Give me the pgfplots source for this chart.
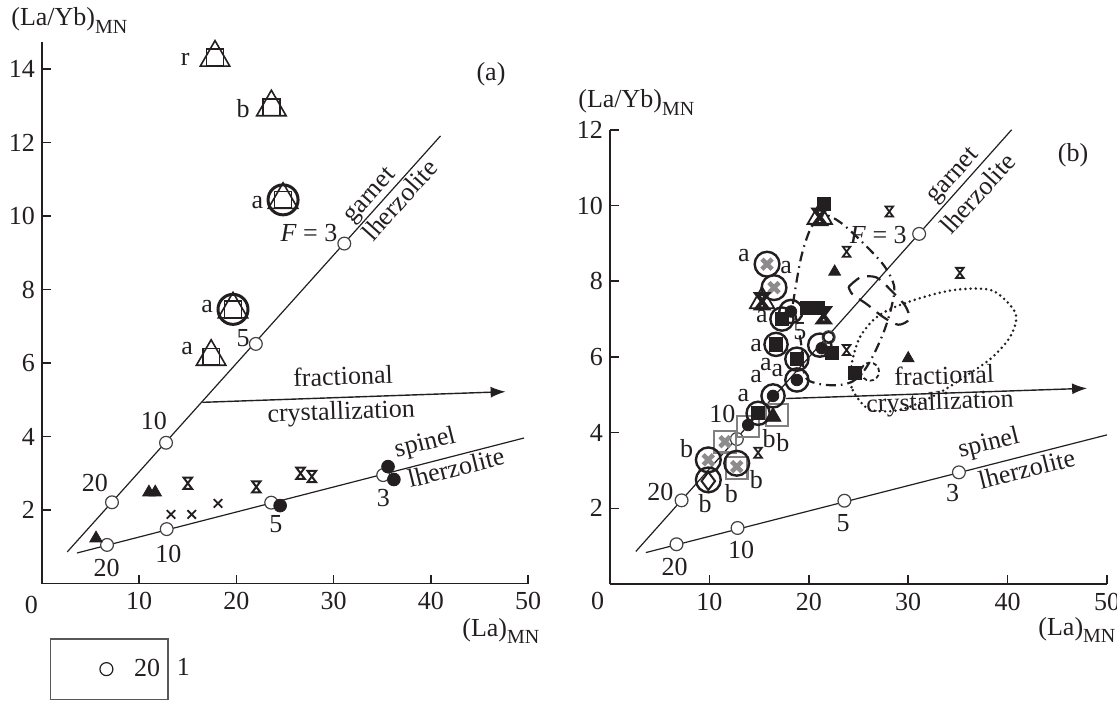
\documentclass[border=0pt]{standalone}
\usepackage{fontspec}
\setmainfont{Liberation Serif}
\usepackage{pgfplots}
\pgfplotsset{compat=1.18}
\usetikzlibrary{arrows.meta}

\definecolor{ink}{HTML}{231F20}
\definecolor{xgrey}{HTML}{8C8C8C}
\definecolor{sgrey}{HTML}{808080}

\newcommand{\fs}{\fontsize{13}{15}\selectfont}
\newcommand{\subs}[1]{\raisebox{-0.3em}{\fontsize{10}{12}\selectfont #1}}

% hourglass-shaped cross used for one group of samples
\pgfdeclareplotmark{hourglass}{%
  \pgfpathmoveto{\pgfqpoint{-0.75\pgfplotmarksize}{\pgfplotmarksize}}%
  \pgfpathlineto{\pgfqpoint{0.75\pgfplotmarksize}{\pgfplotmarksize}}%
  \pgfpathlineto{\pgfqpoint{-0.75\pgfplotmarksize}{-\pgfplotmarksize}}%
  \pgfpathlineto{\pgfqpoint{0.75\pgfplotmarksize}{-\pgfplotmarksize}}%
  \pgfpathclose
  \pgfusepathqstroke}

\pgfplotsset{
  panel/.style={
    scale only axis, anchor=south west,
    axis lines=left, axis line style={-, line width=0.8pt, draw=ink},
    xmin=0, xmax=50, ymin=0, clip=false,
    tick align=inside, major tick length=4.5pt,
    tick style={line width=0.8pt, draw=ink},
    xtick={10,20,30,40,50},
    tick label style={font=\fs, text=ink},
    xticklabel style={yshift=-1pt},
    /pgf/number format/assume math mode=true,
  },
  modelline/.style={ink, line width=0.6pt, no marks},
  modelpt/.style={only marks, mark=*, mark size=3.2pt, mark options={fill=white, draw=ink!85, line width=0.6pt}},
}

\begin{document}
\begin{tikzpicture}[font=\fs, every node/.append style={text=ink}, lab/.style={inner sep=0pt}]
\useasboundingbox (0,0) rectangle (558.5pt,351pt);

%% ---------------- panel (a) ----------------
\begin{axis}[panel, at={(21pt,59.25pt)}, width=243pt, height=270.65pt,
  ymax=14.73, ytick={2,4,...,14},
  legend style={at={(0.0165,-0.1012)}, anchor=north west, draw=ink!75,
    line width=0.7pt, inner xsep=2pt, inner ysep=8pt, font=\fs,
    column sep=7pt, cells={anchor=center}}]
\addlegendimage{legend image code/.code={\path (0pt,0pt) (30pt,0pt);
  \draw[ink, line width=0.6pt, fill=white] (25.5pt,0pt) circle[radius=3.25pt];}}
\addlegendentry{20}

% melting trends
\addplot[modelline] coordinates {(2.6,0.86) (41.0,12.18)};
\addplot[modelline] coordinates {(3.6,0.83) (49.6,3.96)};
\addplot[modelpt] coordinates {(7.2,2.21) (12.76,3.83) (22.0,6.52) (31.1,9.25)};
\addplot[modelpt] coordinates {(6.69,1.05) (12.83,1.48) (23.58,2.2) (35.1,2.95)};
% fractional crystallization vector
\addplot[ink, line width=0.7pt, -{Latex[length=7.5pt,width=5.5pt]}] coordinates {(16.5,4.93) (47.7,5.22)};

% composite symbols
\addplot[only marks, mark=triangle, mark size=8.5pt, ink, mark options={line width=0.8pt}]
  coordinates {(17.8,14.31) (23.6,12.96) (24.8,10.44) (19.65,7.46) (17.4,6.17)};
\addplot[only marks, mark=square, mark size=4.2pt, ink, mark options={line width=0.8pt}]
  coordinates {(17.8,14.31) (23.6,12.96) (24.8,10.44) (19.65,7.46) (17.4,6.17)};
\addplot[only marks, mark=o, mark size=7.5pt, ink, mark options={line width=1.5pt}]
  coordinates {(24.8,10.44) (19.65,7.46)};
% other samples
\addplot[only marks, mark=triangle*, mark size=3.6pt, ink] coordinates {(11.0,2.48) (11.65,2.48) (5.56,1.23)};
\addplot[only marks, mark=hourglass, mark size=2.8pt, ink, mark options={line width=1pt}]
  coordinates {(15.0,2.73) (22.05,2.63) (26.6,3.0) (27.76,2.91)};
\addplot[only marks, mark=x, mark size=3pt, ink, mark options={line width=0.9pt}]
  coordinates {(13.27,1.88) (15.4,1.88) (18.1,2.18)};
\addplot[only marks, mark=*, mark size=3.2pt, ink] coordinates {(35.6,3.18) (36.2,2.83) (24.5,2.12)};

% annotations
\node[lab] at (axis cs:14.74,14.26) {r};
\node[lab] at (axis cs:20.68,12.93) {b};
\node[lab] at (axis cs:22.15,10.37) {a};
\node[lab] at (axis cs:17.0,7.53) {a};
\node[lab] at (axis cs:14.93,6.40) {a};
\node[lab] at (axis cs:27.47,9.53) {\textit{F} = 3};
\node[lab] at (axis cs:20.68,6.68) {5};
\node[lab] at (axis cs:11.52,4.43) {10};
\node[lab] at (axis cs:5.45,2.73) {20};
\node[lab] at (axis cs:6.64,0.41) {20};
\node[lab] at (axis cs:13.01,0.80) {10};
\node[lab] at (axis cs:24.07,1.62) {5};
\node[lab] at (axis cs:35.13,2.32) {3};
\node[lab, rotate=48] at (axis cs:33.85,10.53) {garnet};
\node[lab, rotate=48] at (axis cs:36.79,10.44) {lherzolite};
\node[lab, rotate=14] at (axis cs:39.44,3.80) {spinel};
\node[lab, rotate=14] at (axis cs:42.59,3.16) {lherzolite};
\node[lab, rotate=2] at (axis cs:30.97,5.65) {fractional};
\node[lab, rotate=2] at (axis cs:30.78,4.63) {crystallization};
\end{axis}

%% ---------------- panel (b) ----------------
\begin{axis}[panel, at={(305pt,59pt)}, width=248.5pt, height=227.1pt,
  ymax=12, ytick={2,4,...,12}]
% outlined fields
\addplot[ink, line width=1.4pt, smooth, line cap=round, dash pattern=on 0pt off 2.6pt]
  coordinates {(24.3,5.2) (24.3,5.8) (25.1,6.5) (26.6,7.0) (28.5,7.3) (31.8,7.6) (35.0,7.78)
  (38.5,7.75) (40.8,7.15) (40.3,6.55) (38.5,6.0) (36.4,5.6) (32.8,5.0) (29.2,4.6) (26.2,4.6)
  (24.8,4.95) (24.3,5.2)};
\addplot[ink, line width=1.1pt, smooth, dash pattern=on 7pt off 4pt]
  coordinates {(24.0,7.85) (25.2,8.1) (26.8,8.1) (28.3,7.75) (29.7,7.35) (30.1,7.0) (29.0,6.85)
  (27.5,7.05) (25.8,7.4) (24.4,7.65) (24.0,7.85)};
\addplot[ink, line width=1.1pt, smooth, dash pattern=on 5pt off 2.5pt on 0.8pt off 2.5pt]
  coordinates {(18.4,7.4) (19.2,8.6) (20.2,9.4) (21.5,9.75) (23.2,9.55) (25.5,9.0) (27.6,8.4)
  (28.6,7.85) (28.3,7.3) (27.6,6.7) (26.6,6.1) (25.6,5.65) (24.4,5.35) (22.8,5.25) (20.8,5.3)
  (19.6,5.5) (19.2,6.4) (18.4,7.4)};

% melting trends
\addplot[modelline] coordinates {(2.6,0.86) (40.4,12.0)};
\addplot[modelline] coordinates {(3.6,0.83) (50.0,3.94)};
\addplot[modelpt] coordinates {(7.2,2.21) (12.76,3.83) (22.0,6.52) (31.1,9.25)};
\addplot[modelpt] coordinates {(6.69,1.05) (12.83,1.48) (23.58,2.2) (35.1,2.95)};
\addplot[ink, line width=0.7pt, -{Latex[length=7.5pt,width=5.5pt]}] coordinates {(17.7,4.9) (48.0,5.17)};

% grey open squares
\addplot[only marks, mark=square, mark size=5.4pt, sgrey, mark options={line width=1.1pt}]
  coordinates {(11.57,3.76) (12.75,3.06) (16.8,4.47) (13.9,4.16)};
% open circles around grey crosses
\addplot[only marks, mark=o, mark size=6.2pt, ink, mark options={line width=1.2pt}]
  coordinates {(15.8,8.45) (16.5,7.83) (9.89,3.28) (12.75,3.19) (9.89,2.75)};
% open circles around filled symbols
\addplot[only marks, mark=o, mark size=5.8pt, ink, mark options={line width=1.2pt}]
  coordinates {(17.3,7.0) (18.2,7.2) (16.7,6.33) (18.8,5.94) (18.8,5.39) (16.4,4.97) (14.9,4.51) (21.1,6.31)};
% filled squares
\addplot[only marks, mark=square*, mark size=3.3pt, ink]
  coordinates {(17.3,7.0) (16.7,6.33) (18.8,5.94) (14.9,4.51) (19.8,7.3) (20.9,7.3) (22.3,6.1) (24.65,5.58) (21.5,10.04)};
% filled circles
\addplot[only marks, mark=*, mark size=2.9pt, ink]
  coordinates {(18.2,7.2) (18.8,5.39) (16.4,4.97) (21.3,6.23) (13.9,4.2)};
% grey crosses
\addplot[only marks, mark=x, mark size=3.6pt, xgrey, mark options={line width=2.3pt}]
  coordinates {(15.8,8.45) (16.5,7.83) (11.57,3.76) (9.89,3.28) (12.75,3.1)};
% open triangles with heavy crosses
\addplot[only marks, mark=triangle, mark size=7pt, ink, mark options={line width=0.9pt}]
  coordinates {(21.1,9.7) (15.3,7.47)};
\addplot[only marks, mark=hourglass, mark size=3.6pt, ink, mark options={line width=2pt}]
  coordinates {(21.1,9.7) (15.3,7.47) (21.5,7.1)};
% small crosses
\addplot[only marks, mark=hourglass, mark size=2.5pt, ink, mark options={line width=0.9pt}]
  coordinates {(23.8,8.78) (23.8,6.18) (28.1,9.84) (35.2,8.22) (14.9,3.47)};
% filled triangles
\addplot[only marks, mark=triangle*, mark size=3.4pt, ink] coordinates {(22.6,8.25) (30.0,5.96)};
\addplot[only marks, mark=triangle*, mark size=4.6pt, ink] coordinates {(16.4,4.42)};
% open diamond, dashed circle, ring at F = 5
\addplot[only marks, mark=diamond, mark size=4.5pt, ink, mark options={line width=1pt}] coordinates {(9.89,2.72)};
\addplot[only marks, mark=o, mark size=4.5pt, ink, mark options={line width=0.9pt, dash pattern=on 2pt off 1.5pt}] coordinates {(26.16,5.61)};
\addplot[only marks, mark=*, mark size=2.6pt, mark options={fill=white, draw=ink, line width=0.9pt}] coordinates {(22.0,6.52)};

% annotations
\node[lab] at (axis cs:13.48,8.69) {a};
\node[lab] at (axis cs:17.71,8.35) {a};
\node[lab] at (axis cs:15.29,7.06) {a};
\node[lab] at (axis cs:14.69,6.31) {a};
\node[lab] at (axis cs:15.69,5.79) {a};
\node[lab] at (axis cs:16.85,5.63) {a};
\node[lab] at (axis cs:14.69,5.47) {a};
\node[lab] at (axis cs:13.41,4.97) {a};
\node[lab] at (axis cs:7.72,3.59) {b};
\node[lab] at (axis cs:16.0,3.85) {b};
\node[lab] at (axis cs:17.4,3.74) {b};
\node[lab] at (axis cs:14.73,2.75) {b};
\node[lab] at (axis cs:12.2,2.40) {b};
\node[lab] at (axis cs:9.58,2.13) {b};
\node[lab] at (axis cs:26.99,9.22) {\textit{F} = 3};
\node[lab] at (axis cs:19.11,6.67) {5};
\node[lab] at (axis cs:11.30,4.49) {10};
\node[lab] at (axis cs:5.07,2.44) {20};
\node[lab] at (axis cs:6.51,0.46) {20};
\node[lab] at (axis cs:13.18,0.90) {10};
\node[lab] at (axis cs:23.46,1.60) {5};
\node[lab] at (axis cs:34.46,2.40) {3};
\node[lab, rotate=48] at (axis cs:34.64,10.76) {garnet};
\node[lab, rotate=48] at (axis cs:36.97,10.32) {lherzolite};
\node[lab, rotate=14] at (axis cs:38.13,3.70) {spinel};
\node[lab, rotate=14] at (axis cs:41.92,3.04) {lherzolite};
\node[lab, rotate=2] at (axis cs:33.62,5.52) {fractional};
\node[lab, rotate=2] at (axis cs:33.2,4.77) {crystallization};
\end{axis}

%% ---------------- axis titles and panel letters ----------------
\begin{scope}[x=0.5pt, y=-0.5pt, shift={(0pt,351pt)}]
\node[anchor=base west, inner sep=0pt] at (11,26) {(La/Yb)\subs{MN}};
\node[anchor=base west, inner sep=0pt] at (578,108) {(La/Yb)\subs{MN}};
\node[anchor=base west, inner sep=0pt] at (462,636) {(La)\subs{MN}};
\node[anchor=base west, inner sep=0pt] at (1038,635) {(La)\subs{MN}};
\node at (31.5,605) {0};
\node at (597.6,601) {0};
\node at (491,74) {(a)};
\node at (1073,155) {(b)};
\node at (183.3,666.7) {1};
\end{scope}
\end{tikzpicture}
\end{document}
